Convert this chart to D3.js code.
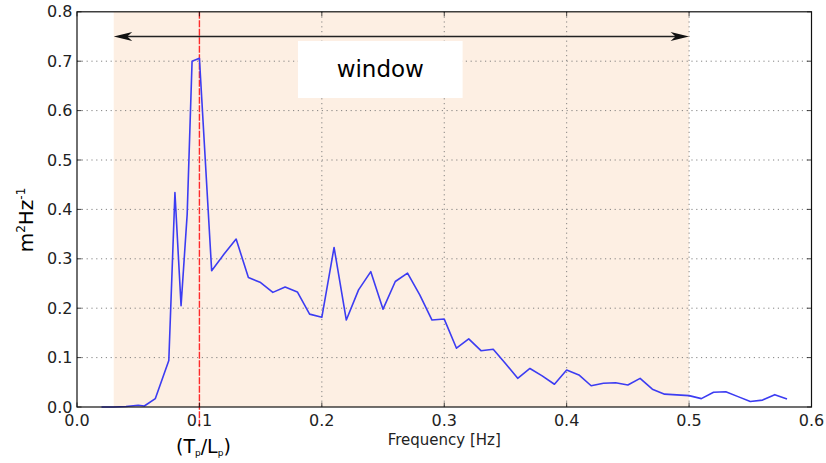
<!DOCTYPE html>
<html>
<head>
<meta charset="utf-8">
<script src="https://cdn.jsdelivr.net/npm/d3@7"></script>
<style>
html,body{margin:0;padding:0;background:#fff;}
svg{display:block;font-family:"DejaVu Sans",sans-serif;}
</style>
</head>
<body>
<svg id="chart" width="826" height="463"></svg>
<script>
// ---- data ----
const frequency = [0.02, 0.03, 0.04, 0.05, 0.055, 0.064, 0.075, 0.08, 0.085, 0.09, 0.094, 0.1,
  0.11, 0.12, 0.13, 0.14, 0.15, 0.16, 0.17, 0.18, 0.19, 0.20,
  0.21, 0.22, 0.23, 0.24, 0.25, 0.26, 0.27, 0.28, 0.29, 0.30,
  0.31, 0.32, 0.33, 0.34, 0.35, 0.36, 0.37, 0.38, 0.39, 0.40,
  0.41, 0.42, 0.43, 0.44, 0.45, 0.46, 0.47, 0.48, 0.49, 0.50,
  0.51, 0.52, 0.53, 0.54, 0.55, 0.56, 0.57, 0.58];
const spectrum = [0.0, 0.0, 0.001, 0.0035, 0.002, 0.017, 0.094, 0.434, 0.205, 0.39, 0.700, 0.706,
  0.276, 0.309, 0.340, 0.262, 0.252, 0.232, 0.243, 0.233, 0.188, 0.1815,
  0.323, 0.176, 0.237, 0.274, 0.198, 0.254, 0.271, 0.227, 0.176, 0.178,
  0.119, 0.138, 0.114, 0.117, 0.088, 0.058, 0.078, 0.063, 0.046, 0.075,
  0.065, 0.043, 0.048, 0.049, 0.0445, 0.058, 0.036, 0.026, 0.0245, 0.023,
  0.017, 0.030, 0.031, 0.021, 0.011, 0.014, 0.025, 0.016];
const xTicks = [0.0, 0.1, 0.2, 0.3, 0.4, 0.5, 0.6];
const yTicks = [0.0, 0.1, 0.2, 0.3, 0.4, 0.5, 0.6, 0.7, 0.8];
const windowRange = [0.03, 0.5];
const windowArrowLevel = 0.75;
const peakFrequency = 0.1;
const windowLabel = "window";
const xLabel = "Frequency [Hz]";

// ---- layout ----
const L = 77, R = 811.5, T = 11.8, B = 407;
const svg = d3.select("#chart");
const x = d3.scaleLinear().domain([0, 0.6]).range([L, R]);
const y = d3.scaleLinear().domain([0, 0.8]).range([B, T]);

// shaded window
svg.append("rect")
  .attr("x", x(windowRange[0])).attr("y", T)
  .attr("width", x(windowRange[1]) - x(windowRange[0]))
  .attr("height", B - T)
  .attr("fill", "#fdefe3");

// grid
const grid = svg.append("g").attr("stroke", "#777").attr("stroke-width", 0.9)
  .attr("stroke-dasharray", "1.2,3.6");
grid.selectAll("line.h").data(yTicks.slice(1, -1)).enter().append("line")
  .attr("x1", L).attr("x2", R).attr("y1", d => y(d)).attr("y2", d => y(d));
grid.selectAll("line.v").data(xTicks.slice(1, -1).filter(t => t !== peakFrequency)).enter().append("line")
  .attr("y1", T).attr("y2", B).attr("x1", d => x(d)).attr("x2", d => x(d));

// red peak line
svg.append("line")
  .attr("x1", x(peakFrequency)).attr("x2", x(peakFrequency))
  .attr("y1", T).attr("y2", 428)
  .attr("stroke", "#ff2a2a").attr("stroke-width", 1.4)
  .attr("stroke-dasharray", "7,1.5");

// spectrum line
const pts = frequency.map((f, i) => [f, spectrum[i]]);
svg.append("path")
  .datum(pts)
  .attr("d", d3.line().x(d => x(d[0])).y(d => y(d[1])))
  .attr("fill", "none").attr("stroke", "#3c3cf2").attr("stroke-width", 1.6)
  .attr("stroke-linejoin", "round");

// window arrow
const ay = y(windowArrowLevel);
const ax1 = x(windowRange[0]), ax2 = x(windowRange[1]);
svg.append("line").attr("x1", ax1 + 6).attr("x2", ax2 - 6).attr("y1", ay).attr("y2", ay)
  .attr("stroke", "#222").attr("stroke-width", 1.5);
function head(tipX, dir) {
  const len = 18.5, hw = 4.6, notch = 5;
  return `M${tipX},${ay} L${tipX - dir * len},${ay - hw} L${tipX - dir * (len - notch)},${ay} L${tipX - dir * len},${ay + hw} Z`;
}
svg.append("path").attr("d", head(ax2, 1)).attr("fill", "#111");
svg.append("path").attr("d", head(ax1, -1)).attr("fill", "#111");

// window label box
const bx1 = x(0.1805), bx2 = x(0.315), by1 = y(0.741), by2 = y(0.6255);
svg.append("rect").attr("x", bx1).attr("y", by1).attr("width", bx2 - bx1).attr("height", by2 - by1)
  .attr("fill", "#fff");
svg.append("text").attr("x", (bx1 + bx2) / 2).attr("y", (by1 + by2) / 2 + 8)
  .attr("text-anchor", "middle").attr("font-size", 23).attr("fill", "#000")
  .text(windowLabel);

// frame
svg.append("rect").attr("x", L).attr("y", T).attr("width", R - L).attr("height", B - T)
  .attr("fill", "none").attr("stroke", "#111").attr("stroke-width", 1.2);

// ticks (inward, all four sides)
const tk = svg.append("g").attr("stroke", "#111").attr("stroke-width", 0.8);
xTicks.forEach(t => {
  tk.append("line").attr("x1", x(t)).attr("x2", x(t)).attr("y1", B).attr("y2", B - 4.5);
  tk.append("line").attr("x1", x(t)).attr("x2", x(t)).attr("y1", T).attr("y2", T + 4.5);
});
yTicks.forEach(t => {
  tk.append("line").attr("y1", y(t)).attr("y2", y(t)).attr("x1", L).attr("x2", L + 4.5);
  tk.append("line").attr("y1", y(t)).attr("y2", y(t)).attr("x1", R).attr("x2", R - 4.5);
});

// tick labels
svg.append("g").selectAll("text").data(xTicks).enter().append("text")
  .attr("x", d => x(d)).attr("y", 426).attr("text-anchor", "middle")
  .attr("font-size", 16).attr("fill", "#222").text(d => d.toFixed(1));
svg.append("g").selectAll("text").data(yTicks).enter().append("text")
  .attr("x", 72.5).attr("y", d => y(d) + 5.5).attr("text-anchor", "end")
  .attr("font-size", 16).attr("fill", "#222").text(d => d.toFixed(1));

// axis labels
svg.append("text").attr("x", (L + R) / 2).attr("y", 445).attr("text-anchor", "middle")
  .attr("font-size", 15).attr("fill", "#222").text(xLabel);

const yl = svg.append("text").attr("transform", "translate(33,220) rotate(-90)")
  .attr("text-anchor", "middle").attr("font-size", 20).attr("fill", "#000");
yl.append("tspan").text("m");
yl.append("tspan").attr("font-size", 12).attr("dy", -8).text("2");
yl.append("tspan").attr("dy", 8).text("Hz");
yl.append("tspan").attr("font-size", 12).attr("dy", -8).text("-1");

// (Tp/Lp) label
const pl = svg.append("text").attr("x", x(peakFrequency) + 4).attr("y", 453)
  .attr("text-anchor", "middle").attr("font-size", 19).attr("fill", "#000");
pl.append("tspan").text("(T");
pl.append("tspan").attr("font-size", 9).attr("dy", 3).text("p");
pl.append("tspan").attr("dy", -3).text("/L");
pl.append("tspan").attr("font-size", 9).attr("dy", 3).text("p");
pl.append("tspan").attr("dy", -3).text(")");
</script>
</body>
</html>
